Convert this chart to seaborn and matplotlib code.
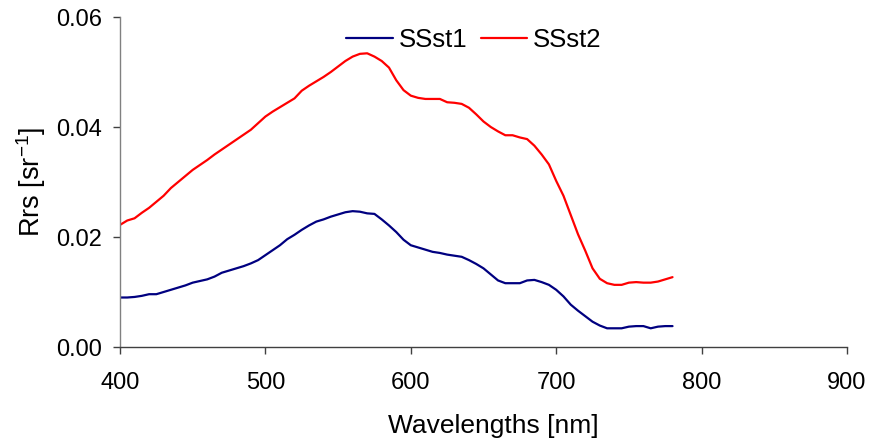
import numpy as np
import pandas as pd
import matplotlib
matplotlib.use("Agg")
import matplotlib.pyplot as plt
import seaborn as sns

wavelengths = [400, 405, 410, 415, 420, 425, 430, 435, 440, 445, 450, 455, 460, 465, 470,
               475, 480, 485, 490, 495, 500, 505, 510, 515, 520, 525, 530, 535, 540, 545,
               550, 555, 560, 565, 570, 575, 580, 585, 590, 595, 600, 605, 610, 615, 620,
               625, 630, 635, 640, 645, 650, 655, 660, 665, 670, 675, 680, 685, 690, 695,
               700, 705, 710, 715, 720, 725, 730, 735, 740, 745, 750, 755, 760, 765, 770,
               775, 780]

ssst1 = [0.0090, 0.0090, 0.0091, 0.0093, 0.0096, 0.0096, 0.0100, 0.0104, 0.0108, 0.0112,
         0.0117, 0.0120, 0.0123, 0.0128, 0.0135, 0.0139, 0.0143, 0.0147, 0.0152, 0.0158,
         0.0167, 0.0176, 0.0185, 0.0196, 0.0204, 0.0213, 0.0221, 0.0228, 0.0232, 0.0237,
         0.0241, 0.0245, 0.0247, 0.0246, 0.0243, 0.0242, 0.0232, 0.0221, 0.0209, 0.0195,
         0.0185, 0.0181, 0.0177, 0.0173, 0.0171, 0.0168, 0.0166, 0.0164, 0.0158, 0.0151,
         0.0143, 0.0132, 0.0121, 0.0116, 0.0116, 0.0116, 0.0121, 0.0122, 0.0118, 0.0113,
         0.0104, 0.0092, 0.0077, 0.0066, 0.0056, 0.0046, 0.0039, 0.0034, 0.0034, 0.0034,
         0.0037, 0.0038, 0.0038, 0.0034, 0.0037, 0.0038, 0.0038]

ssst2 = [0.0222, 0.0230, 0.0234, 0.0244, 0.0253, 0.0264, 0.0275, 0.0289, 0.0300, 0.0311,
         0.0322, 0.0331, 0.0340, 0.0350, 0.0359, 0.0368, 0.0377, 0.0386, 0.0395, 0.0407,
         0.0419, 0.0428, 0.0436, 0.0444, 0.0452, 0.0466, 0.0475, 0.0483, 0.0491, 0.0500,
         0.0510, 0.0520, 0.0528, 0.0533, 0.0534, 0.0528, 0.0520, 0.0508, 0.0485, 0.0467,
         0.0457, 0.0453, 0.0451, 0.0451, 0.0451, 0.0445, 0.0444, 0.0442, 0.0435, 0.0423,
         0.0410, 0.0400, 0.0392, 0.0385, 0.0385, 0.0381, 0.0378, 0.0366, 0.0350, 0.0332,
         0.0302, 0.0275, 0.0240, 0.0205, 0.0175, 0.0143, 0.0124, 0.0116, 0.0113, 0.0113,
         0.0117, 0.0118, 0.0117, 0.0117, 0.0119, 0.0123, 0.0127]

series_names = ["SSst1", "SSst2"]
series_colors = ["#000080", "#FF0000"]
x_ticks = [400, 500, 600, 700, 800, 900]
y_ticks = [0.00, 0.02, 0.04, 0.06]

df = pd.DataFrame({"wl": wavelengths, "SSst1": ssst1, "SSst2": ssst2})
long = df.melt(id_vars="wl", var_name="series", value_name="rrs")

sns.set_theme(style="white")
plt.rcParams["font.family"] = ["Liberation Sans", "DejaVu Sans"]
plt.rcParams["mathtext.fontset"] = "custom"
plt.rcParams["mathtext.rm"] = "Liberation Sans"
plt.rcParams["mathtext.it"] = "Liberation Sans"
plt.rcParams["text.color"] = "black"
plt.rcParams["axes.labelcolor"] = "black"
plt.rcParams["xtick.color"] = "black"
plt.rcParams["ytick.color"] = "black"

fig = plt.figure(figsize=(8.71, 4.42), dpi=100)
ax = fig.add_axes([120 / 871, 1 - 347 / 442, (847 - 120) / 871, (347 - 17) / 442])

sns.lineplot(data=long, x="wl", y="rrs", hue="series", hue_order=series_names,
             palette=dict(zip(series_names, series_colors)), linewidth=1.6, ax=ax,
             estimator=None, sort=False)

ax.set_xlim(400, 900)
ax.set_ylim(0, 0.06)
ax.set_xticks(x_ticks)
ax.set_yticks(y_ticks)
ax.set_xticklabels([str(t) for t in x_ticks])
ax.set_yticklabels([f"{t:.2f}" for t in y_ticks])

for side in ["top", "right"]:
    ax.spines[side].set_visible(False)
ax.spines["left"].set_color("#808080")
ax.spines["bottom"].set_color("#404040")
ax.spines["left"].set_linewidth(1.0)
ax.spines["bottom"].set_linewidth(1.0)

ax.tick_params(axis="both", which="major", direction="out", length=5, width=1,
               color="#404040", labelsize=17, labelcolor="black", bottom=True, left=True)
ax.tick_params(axis="y", pad=8)
ax.tick_params(axis="x", pad=13)

ax.set_xlabel("Wavelengths [nm]", fontsize=19, color="black")
ax.xaxis.set_label_coords(0.513, -0.204)
ax.set_ylabel("Rrs [sr$^{-1}$]", fontsize=19.5, labelpad=6, color="black")

leg = ax.legend(loc="upper center", bbox_to_anchor=(0.487, 1.037), ncol=2, frameon=False,
                fontsize=18.5, handlelength=1.8, columnspacing=0.5, handletextpad=0.25,
                labelcolor="black")

fig.savefig("out.png", dpi=100)
